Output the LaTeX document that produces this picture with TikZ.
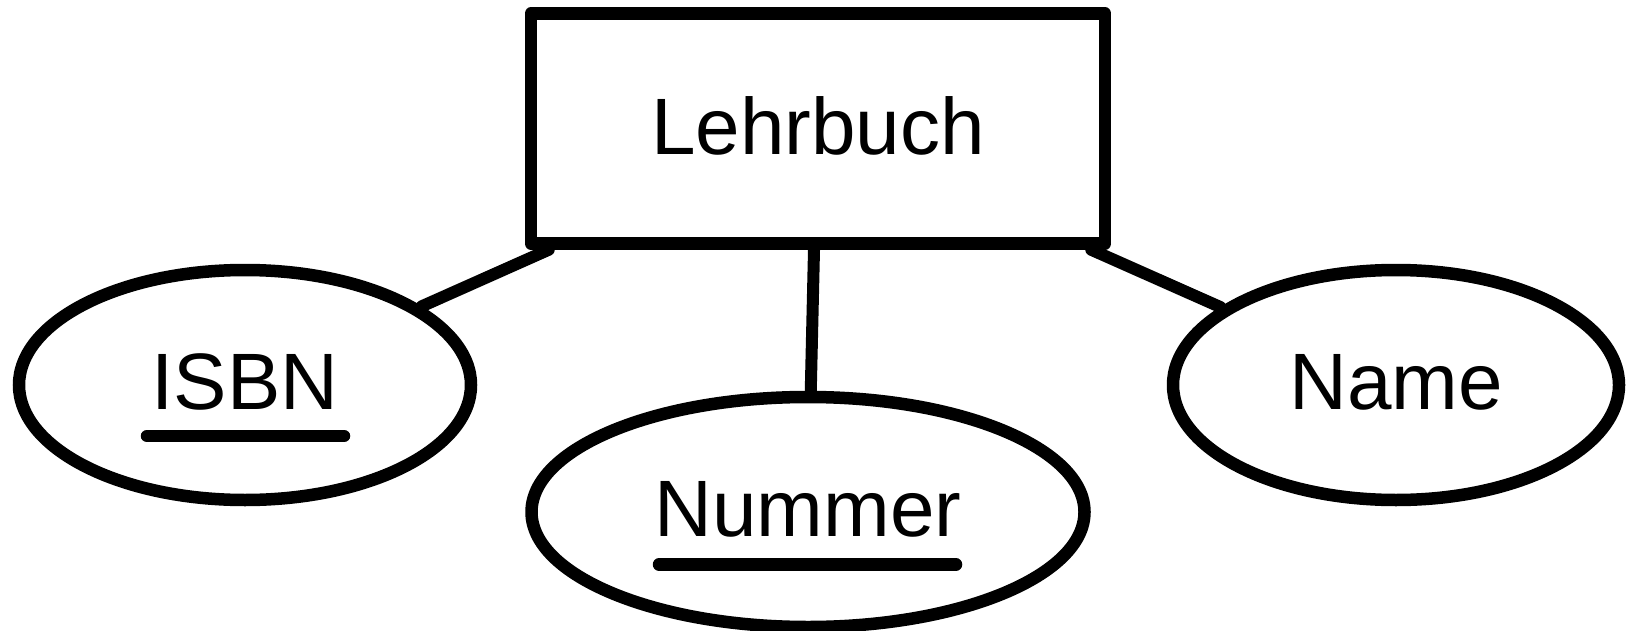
\documentclass[tikz,border=0pt]{standalone}
\usepackage{fontspec}
\setmainfont{Liberation Sans}
\usetikzlibrary{shapes.geometric,calc}
\tikzset{
    entity/.style={draw,line width=6.25pt,line join=round,minimum width=287pt,minimum height=115pt,inner sep=0pt,text depth=2.5pt},
    attr/.style={draw,ellipse,line width=6.25pt,minimum height=115pt,inner sep=0pt,text depth=3pt},
    link/.style={line width=6pt,line cap=round},
    keyline/.style={line width=6.25pt,line cap=round}
}
\begin{document}
\begin{tikzpicture}[x=0.5pt,y=-0.5pt,font=\fontsize{40}{48}\selectfont]
                \useasboundingbox (0,0) rectangle (1627,631);
                \node[entity] (lehrbuch) at (818,128.5) {Lehrbuch};
                \node[attr,minimum width=226pt] (isbn) at (245,385) {ISBN};
                \node[attr,minimum width=276.5pt] (nummer) at (808,512) {Nummer};
                \node[attr,minimum width=223pt] (name) at (1396,385) {Name};
                \draw[link] ([xshift=12pt]lehrbuch.south west) -- (isbn);
                \draw[link] ([xshift=-2pt]lehrbuch.south) -- (nummer);
                \draw[link] ([xshift=-10pt]lehrbuch.south east) -- (name);
                \draw[keyline] ($(isbn)+(-98,51)$) -- ($(isbn)+(99,51)$);
                \draw[keyline] ($(nummer)+(-149,52.5)$) -- ($(nummer)+(148,52.5)$);
            \end{tikzpicture}
\end{document}
